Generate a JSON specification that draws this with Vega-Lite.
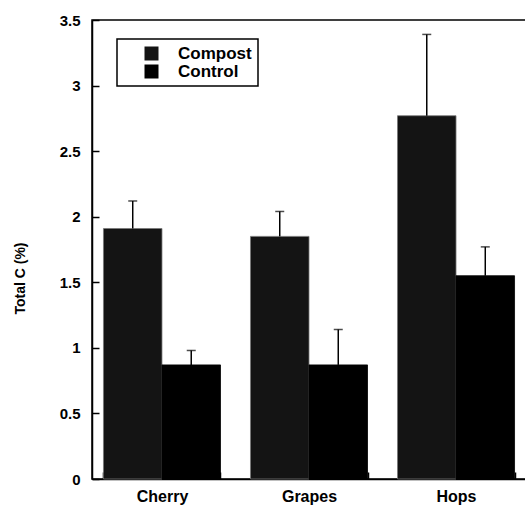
{
  "$schema": "https://vega.github.io/schema/vega-lite/v6.json",
  "autosize": "none",
  "padding": {"left": 92, "top": 20, "right": 0, "bottom": 26},
  "width": 434,
  "height": 459,
  "background": "white",
  "config": {
    "view": {"stroke": "black", "strokeWidth": 1.5},
    "font": "Liberation Sans",
    "axis": {"grid": false, "domainColor": "black", "tickColor": "black", "labelColor": "black", "titleColor": "black", "labelFontWeight": "bold", "titleFontWeight": "bold"}
  },
  "data": {
    "values": [
      {"crop": "Cherry", "treatment": "Compost", "mean": 1.91, "upper": 2.12},
      {"crop": "Cherry", "treatment": "Control", "mean": 0.87, "upper": 0.98},
      {"crop": "Grapes", "treatment": "Compost", "mean": 1.85, "upper": 2.04},
      {"crop": "Grapes", "treatment": "Control", "mean": 0.87, "upper": 1.14},
      {"crop": "Hops", "treatment": "Compost", "mean": 2.77, "upper": 3.39},
      {"crop": "Hops", "treatment": "Control", "mean": 1.55, "upper": 1.77}
    ]
  },
  "encoding": {
    "x": {
      "field": "crop", "type": "nominal", "sort": ["Cherry", "Grapes", "Hops"],
      "scale": {"paddingInner": 0.204, "paddingOuter": 0.078},
      "axis": {"title": null, "labelAngle": 0, "labelFontSize": 16, "labelPadding": 16, "tickBand": "extent", "tickSize": -7, "domainWidth": 1.5, "tickWidth": 1.5}
    },
    "xOffset": {"field": "treatment", "type": "nominal", "scale": {"paddingInner": 0, "paddingOuter": 0}}
  },
  "layer": [
    {
      "mark": {"type": "bar", "strokeWidth": 0.8},
      "encoding": {
        "y": {
          "field": "mean", "type": "quantitative",
          "scale": {"domain": [0, 3.5], "nice": false},
          "axis": {"title": "Total C (%)", "titleFontSize": 14, "titleAngle": 270, "titleX": -72, "titleY": 258, "titleAlign": "center", "titleBaseline": "middle", "values": [0, 0.5, 1, 1.5, 2, 2.5, 3, 3.5], "format": "~g", "labelFontSize": 15, "labelPadding": 19, "tickSize": -7, "domainWidth": 1.5, "tickWidth": 1.5}
        },
        "fill": {
          "field": "treatment", "type": "nominal",
          "scale": {"domain": ["Compost", "Control"], "range": ["#141414", "#000000"]},
          "legend": {
            "title": null, "orient": "none", "legendX": 25, "legendY": 19,
            "strokeColor": "black", "fillColor": "white",
            "padding": 6, "labelFontSize": 17, "labelFontWeight": "bold", "labelColor": "black",
            "symbolType": "square", "symbolSize": 196, "symbolStrokeWidth": 0, "symbolOffset": 20, "rowPadding": 0, "labelOffset": 18,
            "encode": {"legend": {"update": {"strokeWidth": {"value": 1.5}}}}
          }
        },
        "stroke": {
          "field": "treatment", "type": "nominal",
          "scale": {"domain": ["Compost", "Control"], "range": ["#777777", "#000000"]},
          "legend": null
        }
      }
    },
    {
      "mark": {"type": "rule", "color": "black", "strokeWidth": 1.5},
      "encoding": {
        "y": {"field": "mean", "type": "quantitative"},
        "y2": {"field": "upper"}
      }
    },
    {
      "mark": {"type": "tick", "color": "black", "thickness": 1.5, "size": 9},
      "encoding": {
        "y": {"field": "upper", "type": "quantitative"}
      }
    }
  ]
}
